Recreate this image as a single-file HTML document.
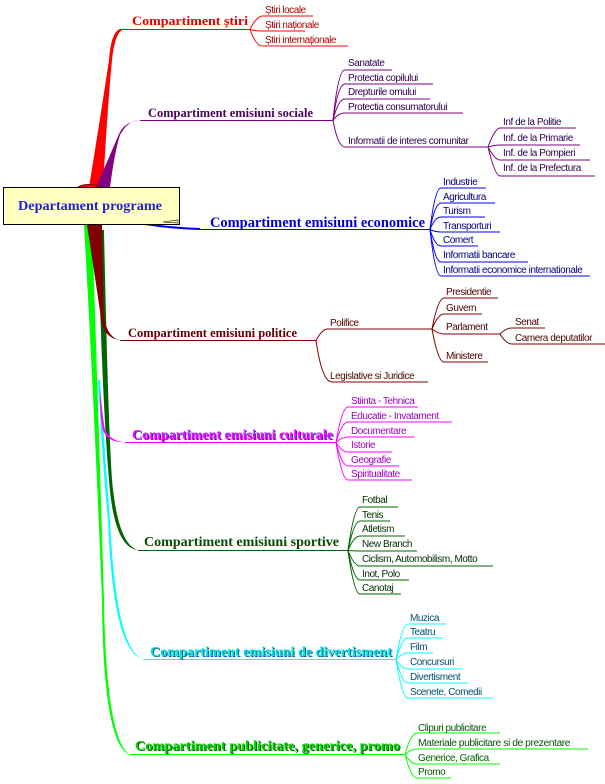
<!DOCTYPE html>
<html><head><meta charset="utf-8"><style>
html,body{margin:0;padding:0;background:#fff;}
svg{display:block}
.t{font-family:"Liberation Serif",serif;font-weight:bold;}
.c{font-family:"Liberation Sans",sans-serif;font-size:10px;letter-spacing:-0.45px;}
</style></head><body>
<svg width="605" height="784" viewBox="0 0 605 784" xmlns="http://www.w3.org/2000/svg">
<path d="M89,187 L103,187 Q108,100 112,60 Q115,30 125,29 L120,29 Q111,32 109,60 Q100,120 89,187Z" fill="#ff0000"/>
<path d="M96,187 L110,187 Q115,150 120,135 Q128,120 140,120 Q124,122 119,134 Q108,160 96,187Z" fill="#800080"/>
<ellipse cx="89" cy="188" rx="11" ry="3.5" fill="#ff0000" stroke="#800000" stroke-width="1"/>
<path d="M84,225 L92,225 Q98,400 104,600 Q106,740 130,755 Q103,745 102,600 Q94,400 84,225Z" fill="#00ff00"/>
<path d="M100,380 Q106,470 110,520 Q116,650 143,659 Q113,652 108,520 Q103,470 98,380Z" fill="#00ffff"/>
<path d="M98,230 L104,230 Q108,420 112,480 Q118,545 138,550 Q114,548 109,480 Q102,400 98,230Z" fill="#006400"/>
<path d="M100,390 Q103,420 105,430 Q112,442 125,442 Q108,443 103,430 Q100,420 100,390Z" fill="#ff00ff"/>
<path d="M87,225 L102,225 Q103,300 104,318 Q108,338 120,340 Q103,338 101,318 Q94,270 87,225Z" fill="#800000"/>
<path d="M145,224 Q170,228 200,229" stroke="#0000ff" stroke-width="2" fill="none"/>
<rect x="3.5" y="187.5" width="176" height="37" fill="#ffffc0" stroke="#000"/>
<text x="18" y="210" class="t" font-size="14" fill="#1f1fe0" textLength="144" lengthAdjust="spacingAndGlyphs">Departament programe</text>
<path d="M163,222 L178,220 L178,223 Z" fill="#ffffc0" stroke="#000" stroke-width="0.6"/>

<g stroke="#ff0000" fill="none" stroke-width="1">
<path d="M120,29.5 H250"/>
<path d="M250,29.5 Q256,17 262,16 H313"/><path d="M250,29.5 Q256,31 262,31 H305"/><path d="M250,29.5 Q256,46 262,46 H348"/>
</g>
<text x="132" y="25" class="t" font-size="13" fill="#e00000" textLength="116" lengthAdjust="spacingAndGlyphs">Compartiment știri</text>
<g class="c" fill="#b00000"><text x="265" y="13">Știri locale</text><text x="265" y="28">Știri naționale</text><text x="265" y="43">Știri internaționale</text></g>

<g stroke="#800080" fill="none" stroke-width="1">
<path d="M140,120.5 H333"/>
<path d="M333,120.5 Q338,70 345,70 H392"/><path d="M333,120.5 Q338,84 345,84 H433"/><path d="M333,120.5 Q338,99 345,99 H430"/><path d="M333,120.5 Q338,113 345,113 H463"/><path d="M333,120.5 Q338,147 345,147 H488"/>
<path d="M488,147 Q495,128 500,128 H576"/><path d="M488,147 Q495,145 500,145 H580"/><path d="M488,147 Q495,160 500,160 H590"/><path d="M488,147 Q495,176 500,176 H595"/>
</g>
<text x="148" y="117" class="t" font-size="12.5" fill="#4b0060" textLength="165" lengthAdjust="spacingAndGlyphs">Compartiment emisiuni sociale</text>
<g class="c" fill="#300050"><text x="348" y="66">Sanatate</text><text x="348" y="81">Protectia copilului</text><text x="348" y="95">Drepturile omului</text><text x="348" y="110">Protectia consumatorului</text><text x="348" y="144">Informatii de interes comunitar</text>
<text x="503" y="125">Inf de la Politie</text><text x="503" y="141">Inf. de la Primarie</text><text x="503" y="156">Inf. de la Pompieri</text><text x="503" y="171">Inf. de la Prefectura</text></g>

<g stroke="#0000ff" fill="none" stroke-width="1">
<path d="M200,229.5 H430"/>
<path d="M430,229.5 Q435,188 441,188 H486"/><path d="M430,229.5 Q435,203 441,203 H495"/><path d="M430,229.5 Q435,217 441,217 H485"/><path d="M430,229.5 Q435,232 441,232 H500"/><path d="M430,229.5 Q435,246 441,246 H478"/><path d="M430,229.5 Q435,262 441,262 H528"/><path d="M430,229.5 Q435,276 441,276 H590"/>
</g>
<text x="210" y="227" class="t" font-size="14.5" fill="#0000d0" textLength="215" lengthAdjust="spacingAndGlyphs">Compartiment emisiuni economice</text>
<g class="c" fill="#000080"><text x="443" y="185">Industrie</text><text x="443" y="200">Agricultura</text><text x="443" y="214">Turism</text><text x="443" y="229">Transporturi</text><text x="443" y="243">Comert</text><text x="443" y="258">Informatii bancare</text><text x="443" y="273">Informatii economice internationale</text></g>

<g stroke="#800000" fill="none" stroke-width="1">
<path d="M120,340.5 H316"/>
<path d="M316,340.5 Q322,329 328,329 H432"/><path d="M316,340.5 Q322,382 332,382 H428"/>
<path d="M432,329 Q438,298 444,298 H498"/><path d="M432,329 Q438,314 444,314 H482"/><path d="M432,329 Q438,334 444,334 H500"/><path d="M432,329 Q438,362 444,362 H488"/>
<path d="M500,334 Q506,328 512,328 H545"/><path d="M500,334 Q506,344 512,344 H605"/>
</g>
<text x="128" y="337" class="t" font-size="12.5" fill="#600000" textLength="169" lengthAdjust="spacingAndGlyphs">Compartiment emisiuni politice</text>
<g class="c" fill="#500000"><text x="330" y="326">Polifice</text><text x="330" y="379">Legislative si Juridice</text><text x="446" y="295">Presidentie</text><text x="446" y="311">Guvern</text><text x="446" y="330">Parlament</text><text x="446" y="359">Ministere</text><text x="515" y="325">Senat</text><text x="515" y="341">Camera deputatilor</text></g>

<g stroke="#ff00ff" fill="none" stroke-width="1">
<path d="M125,442.5 H336"/>
<path d="M336,442.5 Q342,407 348,407 H418"/><path d="M336,442.5 Q342,422 348,422 H452"/><path d="M336,442.5 Q342,437 348,437 H414"/><path d="M336,442.5 Q342,452 348,452 H392"/><path d="M336,442.5 Q342,466 348,466 H399"/><path d="M336,442.5 Q342,480 348,480 H412"/>
</g>
<text x="133" y="440" class="t" font-size="14" fill="#3030c0" textLength="201" lengthAdjust="spacingAndGlyphs">Compartiment emisiuni culturale</text>
<text x="132" y="439" class="t" font-size="14" fill="#ff00ff" textLength="201" lengthAdjust="spacingAndGlyphs">Compartiment emisiuni culturale</text>
<g class="c" fill="#a000c0"><text x="351" y="404">Stiinta - Tehnica</text><text x="351" y="419">Educatie - Invatament</text><text x="351" y="434">Documentare</text><text x="351" y="448">Istorie</text><text x="351" y="463">Geografie</text><text x="351" y="477">Spiritualitate</text></g>

<g stroke="#006400" fill="none" stroke-width="1">
<path d="M138,550.5 H348"/>
<path d="M348,550.5 Q354,507 360,507 H398"/><path d="M348,550.5 Q354,521 360,521 H390"/><path d="M348,550.5 Q354,536 360,536 H405"/><path d="M348,550.5 Q354,551 360,551 H417"/><path d="M348,550.5 Q354,566 360,566 H493"/><path d="M348,550.5 Q354,580 360,580 H409"/><path d="M348,550.5 Q354,594 360,594 H401"/>
</g>
<text x="144" y="546" class="t" font-size="14" fill="#005000" textLength="195" lengthAdjust="spacingAndGlyphs">Compartiment emisiuni sportive</text>
<g class="c" fill="#003000"><text x="362" y="503">Fotbal</text><text x="362" y="518">Tenis</text><text x="362" y="532">Atletism</text><text x="362" y="547">New Branch</text><text x="362" y="562">Ciclism, Automobilism, Motto</text><text x="362" y="577">Inot, Polo</text><text x="362" y="591">Canotaj</text></g>

<g stroke="#00ffff" fill="none" stroke-width="1">
<path d="M143,659.5 H396"/>
<path d="M396,659.5 Q402,624 408,624 H446"/><path d="M396,659.5 Q402,638 408,638 H443"/><path d="M396,659.5 Q402,653 408,653 H433"/><path d="M396,659.5 Q402,669 408,669 H463"/><path d="M396,659.5 Q402,683 408,683 H468"/><path d="M396,659.5 Q402,698 408,698 H493"/>
</g>
<text x="151" y="657" class="t" font-size="14" fill="#006080" textLength="242" lengthAdjust="spacingAndGlyphs">Compartiment emisiuni de divertisment</text>
<text x="150" y="656" class="t" font-size="14" fill="#00e0e0" textLength="242" lengthAdjust="spacingAndGlyphs">Compartiment emisiuni de divertisment</text>
<g class="c" fill="#005070"><text x="410" y="621">Muzica</text><text x="410" y="635">Teatru</text><text x="410" y="650">Film</text><text x="410" y="665">Concursuri</text><text x="410" y="680">Divertisment</text><text x="410" y="695">Scenete, Comedii</text></g>

<g stroke="#00ff00" fill="none" stroke-width="1">
<path d="M130,754.5 H405"/>
<path d="M405,754.5 Q411,733 417,733 H500"/><path d="M405,754.5 Q411,749 417,749 H588"/><path d="M405,754.5 Q411,764 417,764 H500"/><path d="M405,754.5 Q411,778 417,778 H451"/>
</g>
<text x="136" y="751" class="t" font-size="14" fill="#006000" textLength="265" lengthAdjust="spacingAndGlyphs">Compartiment publicitate, generice, promo</text>
<text x="135" y="750" class="t" font-size="14" fill="#00d000" textLength="265" lengthAdjust="spacingAndGlyphs">Compartiment publicitate, generice, promo</text>
<g class="c" fill="#006000"><text x="418" y="731">Clipuri publicitare</text><text x="418" y="746" textLength="152" lengthAdjust="spacingAndGlyphs">Materiale publicitare si de prezentare</text><text x="418" y="761">Generice, Grafica</text><text x="418" y="775">Promo</text></g>
</svg>
</body></html>
